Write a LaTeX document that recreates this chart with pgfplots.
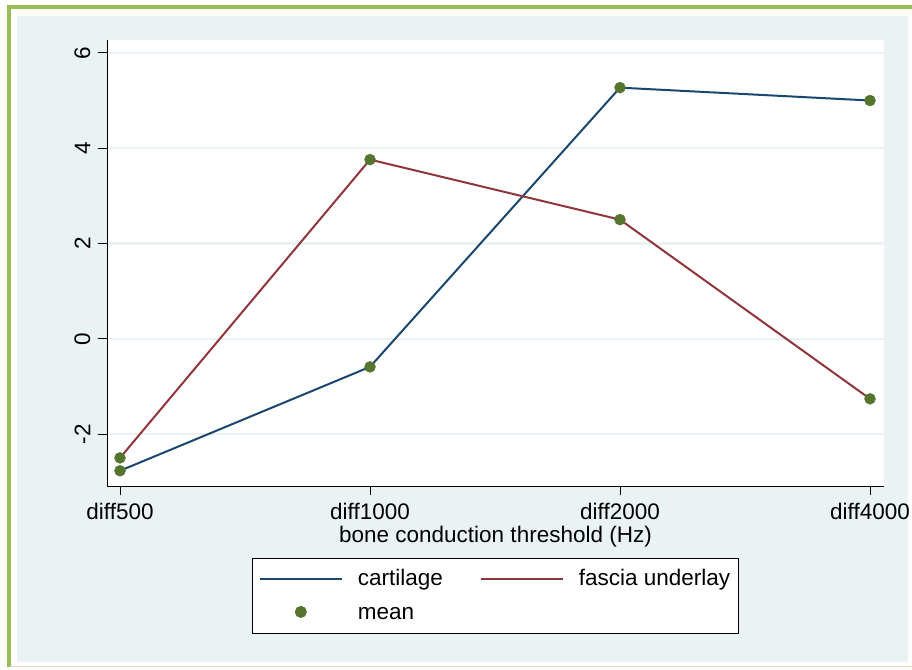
\documentclass[border=0pt]{standalone}
\usepackage{pgfplots}
\pgfplotsset{compat=1.18}
\usepackage{fontspec}
\setmainfont{Liberation Sans}
\definecolor{bgblue}{HTML}{EAF2F3}
\definecolor{bordergreen}{HTML}{9BBB59}
\definecolor{lightgreen}{HTML}{D7E4BD}
\definecolor{snavy}{HTML}{1A476F}
\definecolor{smaroon}{HTML}{90353B}
\definecolor{sgreen}{HTML}{55752F}
\pgfplotsset{
  lineleg/.style={legend image code/.code={\draw[##1] (0bp,0bp) -- (82bp,0bp);}},
  dotleg/.style={legend image code/.code={\draw[##1] plot coordinates {(41bp,3bp)};}},
}
\begin{document}
\fontsize{22.5bp}{27bp}\selectfont
\begin{tikzpicture}
\useasboundingbox (0bp,0bp) rectangle (912bp,-670bp);
\fill[white] (0bp,0bp) rectangle (912bp,-670bp);
\fill[bordergreen] (7bp,-5bp) rectangle (912bp,-8.5bp);
\fill[bordergreen] (7bp,-5bp) rectangle (10.5bp,-667bp);
\draw[lightgreen, line width=1.5bp] (10bp,-666.5bp) -- (912bp,-666.5bp);
\fill[bgblue] (17bp,-16bp) rectangle (908bp,-662bp);
\begin{axis}[
  at={(107bp,-486bp)}, anchor=south west,
  scale only axis, width=777bp, height=446bp,
  xmin=-0.052, xmax=3.056, ymin=-3.09, ymax=6.27,
  axis background/.style={fill=white},
  axis lines=left,
  axis line style={-, black, line width=1bp},
  tick align=outside, major tick length=9bp,
  tick style={black, line width=1bp},
  xtick pos=left, ytick pos=left,
  xtick={0,1,2,3},
  xticklabels={diff500,diff1000,diff2000,diff4000},
  ytick={-2,0,2,4,6},
  ymajorgrids, grid style={bgblue, line width=2.5bp},
  /pgf/number format/assume math mode=true,
  tick label style={font=\fontsize{22.5bp}{27bp}\selectfont},
  yticklabel style={rotate=90, anchor=south},
  xlabel={bone conduction threshold (Hz)},
  label style={font=\fontsize{22.5bp}{27bp}\selectfont},
  xlabel style={yshift=8bp},
  legend columns=2,
  legend cell align=left,
  legend style={at={(0.5,-0.1614)}, anchor=north, draw=black, line width=1bp, fill=white,
    font=\fontsize{22.5bp}{27bp}\selectfont,
    /tikz/every odd column/.append style={column sep=13bp},
    /tikz/every even column/.append style={column sep=35bp},
    row sep=14bp, inner xsep=6bp, inner ysep=9bp},
]
\addplot[snavy, line width=2bp, lineleg]
  coordinates {(0,-2.77) (1,-0.59) (2,5.27) (3,5.0)};
\addlegendentry{cartilage}
\addplot[smaroon, line width=2bp, lineleg]
  coordinates {(0,-2.5) (1,3.76) (2,2.5) (3,-1.26)};
\addlegendentry{fascia underlay}
\addplot[only marks, mark=*, mark size=5.5bp, sgreen, mark options={fill=sgreen, draw=sgreen}, dotleg]
  coordinates {(0,-2.77) (1,-0.59) (2,5.27) (3,5.0) (0,-2.5) (1,3.76) (2,2.5) (3,-1.26)};
\addlegendentry{mean}
\end{axis}
\end{tikzpicture}
\end{document}
